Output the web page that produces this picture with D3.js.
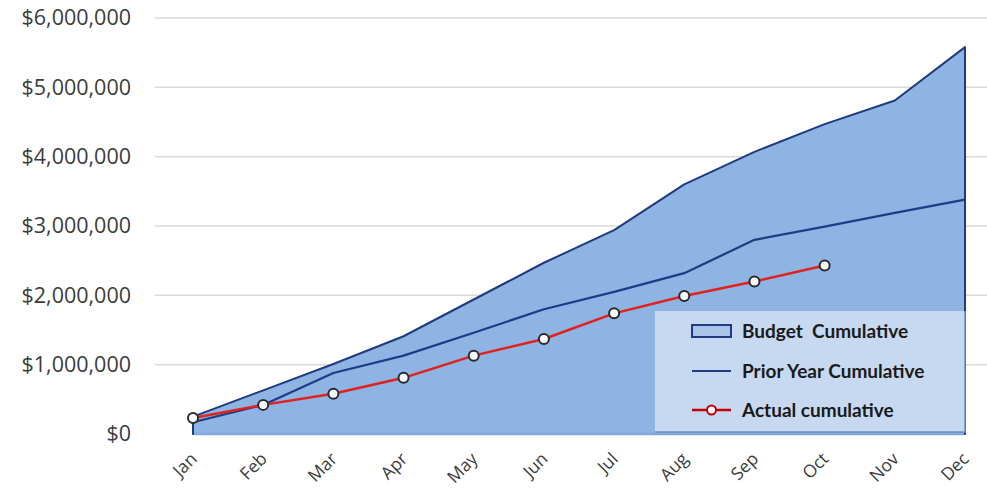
<!DOCTYPE html>
<html>
<head>
<meta charset="utf-8">
<script src="https://cdn.jsdelivr.net/npm/d3@7"></script>
<style>
  html, body { margin: 0; padding: 0; background: #ffffff; }
  svg { display: block; }
</style>
</head>
<body>
<svg id="chart" width="987" height="491"></svg>
<script>
// Monthly cumulative figures (USD)
const months = ["Jan","Feb","Mar","Apr","May","Jun","Jul","Aug","Sep","Oct","Nov","Dec"];
const budgetCumulative = [250000, 630000, 1010000, 1410000, 1940000, 2470000, 2940000, 3600000, 4070000, 4470000, 4810000, 5580000];
const priorYearCumulative = [170000, 420000, 880000, 1130000, 1460000, 1800000, 2050000, 2320000, 2800000, 2990000, 3190000, 3380000];
const actualCumulative = [230000, 420000, 580000, 810000, 1130000, 1370000, 1740000, 1990000, 2200000, 2430000];
const yTicks = [0, 1000000, 2000000, 3000000, 4000000, 5000000, 6000000];
const legendLabels = ["Budget  Cumulative", "Prior Year Cumulative", "Actual cumulative"];

const svg = d3.select("#chart");

const x = d3.scalePoint().domain(months).range([193, 965]);
const y = d3.scaleLinear().domain([0, 6000000]).range([434, 18]);

const fmt = v => "$" + d3.format(",")(v);

// Horizontal gridlines
svg.append("g")
  .selectAll("line")
  .data(yTicks.filter(d => d > 0))
  .join("line")
  .attr("x1", 155).attr("x2", 987)
  .attr("y1", d => y(d)).attr("y2", d => y(d))
  .attr("stroke", "#d9d9d9").attr("stroke-width", 1.5);

// Y axis labels
const yAxis = d3.axisLeft(y).tickValues(yTicks).tickFormat(fmt).tickSize(0).tickPadding(0);
const yG = svg.append("g").attr("transform", "translate(131,0)").call(yAxis);
yG.select(".domain").remove();
yG.selectAll("text")
  .attr("font-family", "'Open Sans', sans-serif")
  .attr("font-size", 21.5)
  .attr("fill", "#3c3c3c");

// Budget area
const area = d3.area()
  .x((d, i) => x(months[i]))
  .y0(y(0))
  .y1(d => y(d));
svg.append("path")
  .datum(budgetCumulative)
  .attr("d", area)
  .attr("fill", "#8db4e2")
  .attr("stroke", "#1f3b7d")
  .attr("stroke-width", 2)
  .attr("stroke-linejoin", "round");

// Baseline in a slightly deeper blue than the fill
svg.append("line")
  .attr("x1", x("Jan") + 1).attr("x2", x("Dec") - 1)
  .attr("y1", y(0)).attr("y2", y(0))
  .attr("stroke", "#7fa8dc").attr("stroke-width", 2.5);

// Legend box
const lg = svg.append("g");
lg.append("rect")
  .attr("x", 655).attr("y", 311).attr("width", 310).attr("height", 121)
  .attr("fill", "#c6d9f1");
lg.append("path")
  .attr("d", "M965,311 V432 H655")
  .attr("fill", "none").attr("stroke", "#6f8fbf").attr("stroke-width", 1.5);

// Prior year line
const line = d3.line()
  .x((d, i) => x(months[i]))
  .y(d => y(d));
svg.append("path")
  .datum(priorYearCumulative)
  .attr("d", line)
  .attr("fill", "none")
  .attr("stroke", "#1f3b85")
  .attr("stroke-width", 2.2)
  .attr("stroke-linejoin", "round");

// Actual line with markers
svg.append("path")
  .datum(actualCumulative)
  .attr("d", line)
  .attr("fill", "none")
  .attr("stroke", "#e3211c")
  .attr("stroke-width", 2.5)
  .attr("stroke-linejoin", "round");
svg.append("g")
  .selectAll("circle")
  .data(actualCumulative)
  .join("circle")
  .attr("cx", (d, i) => x(months[i]))
  .attr("cy", d => y(d))
  .attr("r", 5)
  .attr("fill", "#ffffff")
  .attr("stroke", "#2a2a2a")
  .attr("stroke-width", 2);

// X axis labels, rotated
svg.append("g")
  .selectAll("text")
  .data(months)
  .join("text")
  .attr("transform", d => `translate(${x(d) + 5},${460}) rotate(-45)`)
  .attr("text-anchor", "end")
  .attr("font-family", "'Open Sans', sans-serif")
  .attr("font-size", 17.5)
  .attr("fill", "#3c3c3c")
  .text(d => d);

// Legend entries
const rows = [331, 371, 410];
lg.append("rect")
  .attr("x", 692).attr("y", rows[0] - 6).attr("width", 39).attr("height", 12)
  .attr("fill", "#a9c4e8").attr("stroke", "#1f3b85").attr("stroke-width", 2);
lg.append("line")
  .attr("x1", 692).attr("x2", 731).attr("y1", rows[1]).attr("y2", rows[1])
  .attr("stroke", "#1f3b85").attr("stroke-width", 2.2);
lg.append("line")
  .attr("x1", 692).attr("x2", 731).attr("y1", rows[2]).attr("y2", rows[2])
  .attr("stroke", "#c00000").attr("stroke-width", 2.5);
lg.append("circle")
  .attr("cx", 711.5).attr("cy", rows[2]).attr("r", 4.5)
  .attr("fill", "#ffffff").attr("stroke", "#c00000").attr("stroke-width", 2);
lg.selectAll("text.lbl")
  .data(legendLabels)
  .join("text")
  .attr("class", "lbl")
  .attr("x", 742)
  .attr("y", (d, i) => rows[i])
  .attr("dy", "0.35em")
  .attr("font-family", "Lato, sans-serif")
  .attr("font-weight", "bold")
  .attr("font-size", 19)
  .attr("fill", "#1a1a1a")
  .attr("xml:space", "preserve")
  .style("white-space", "pre")
  .text(d => d);
</script>
</body>
</html>
